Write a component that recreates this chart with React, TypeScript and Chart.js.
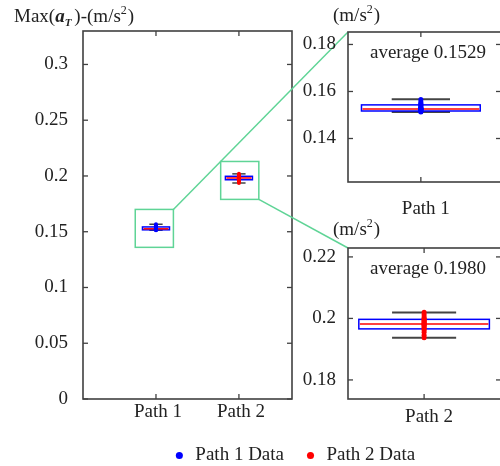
import React, { useEffect, useRef } from 'react';
import { Chart, registerables } from 'chart.js';

Chart.register(...registerables);

// ---------------- data ----------------
const categories = ['Path 1', 'Path 2'];
const categoryPositions = [1, 2];
const seriesNames = ['Path 1 Data', 'Path 2 Data'];
const seriesColors = ['#0000ff', '#ff0000'];

const path1Values = [
  0.1513, 0.1515, 0.1517, 0.1519, 0.1521, 0.1523, 0.1524, 0.1525, 0.1525, 0.1526,
  0.1527, 0.1529, 0.1531, 0.1534, 0.1538, 0.1542, 0.1545, 0.155, 0.1556, 0.1566,
];
const path2Values = [
  0.1937, 0.1945, 0.1955, 0.1962, 0.1966, 0.197, 0.1974, 0.1978, 0.198, 0.1982,
  0.1983, 0.1986, 0.1989, 0.1992, 0.1995, 0.1997, 0.2, 0.2005, 0.2012, 0.202,
];

const boxQ1 = [0.1517, 0.1966];
const boxMedian = [0.1526, 0.1982];
const boxQ3 = [0.1543, 0.1997];
const whiskerLow = [0.1513, 0.1937];
const whiskerHigh = [0.1567, 0.2019];
const averages = [0.1529, 0.198];

const mainYTicks = [0, 0.05, 0.1, 0.15, 0.2, 0.25, 0.3];
const mainYTickLabels = ['0', '0.05', '0.1', '0.15', '0.2', '0.25', '0.3'];
const inset1YTicks = [0.14, 0.16, 0.18];
const inset1YTickLabels = ['0.14', '0.16', '0.18'];
const inset2YTicks = [0.18, 0.2, 0.22];
const inset2YTickLabels = ['0.18', '0.2', '0.22'];

// zoom windows marked on the main panel
const zoomXRanges = [[0.75, 1.21], [1.78, 2.24]];
const zoomYRanges = [[0.136, 0.17], [0.179, 0.213]];

// axis ranges
const mainXRange = [0.12, 2.64];
const mainYRange = [0, 0.33];
const inset1XRange = [0.8, 1.22];
const inset1YRange = [0.1215, 0.1853];
const inset2XRange = [1.81, 2.192];
const inset2YRange = [0.1738, 0.2229];

// ---------------- styles ----------------
const FONT = '"Liberation Serif", "Times New Roman", serif';
const FS = 19;
const TEXT = '#222222';
const FRAME = '#404040';
const GREEN = 'rgb(95, 212, 150)';
const BOX_HALF = 0.163;
const CAP_HALF = 0.08;

const INSET_POS = [
  { left: 290, top: 0, width: 215, height: 230 },
  { left: 290, top: 200, width: 215, height: 240 },
];

type Run = { t: string; font: string; dy: number; dx?: number };

function drawRuns(ctx: CanvasRenderingContext2D, x: number, baseline: number, runs: Run[]) {
  ctx.save();
  ctx.textBaseline = 'alphabetic';
  ctx.textAlign = 'left';
  ctx.fillStyle = TEXT;
  let cx = x;
  runs.forEach((r) => {
    ctx.font = r.font;
    cx += r.dx || 0;
    ctx.fillText(r.t, cx, baseline + r.dy);
    cx += ctx.measureText(r.t).width;
  });
  ctx.restore();
}

const REG = `${FS}px ${FONT}`;
const SMALL = `12px ${FONT}`;
const BI = `bold italic ${FS}px ${FONT}`;
const BI_SMALL = `bold italic 11px ${FONT}`;

const unitRuns: Run[] = [
  { t: '(m/s', font: REG, dy: 0 },
  { t: '2', font: SMALL, dy: -8 },
  { t: ')', font: REG, dy: 0, dx: 1 },
];
const titleRuns: Run[] = [
  { t: 'Max(', font: REG, dy: 0 },
  { t: 'a', font: BI, dy: 0 },
  { t: 'T', font: BI_SMALL, dy: 4 },
  { t: ')-(m/s', font: REG, dy: 0, dx: 3 },
  { t: '2', font: SMALL, dy: -8 },
  { t: ')', font: REG, dy: 0, dx: 1 },
];

function line(ctx: CanvasRenderingContext2D, x0: number, y0: number, x1: number, y1: number) {
  ctx.beginPath();
  ctx.moveTo(x0, y0);
  ctx.lineTo(x1, y1);
  ctx.stroke();
}

function boxPlugin(indices: number[], capWidth: number) {
  return {
    id: 'boxes',
    beforeDatasetsDraw(chart: any) {
      const { ctx } = chart;
      const xs = chart.scales.x;
      const ys = chart.scales.y;
      ctx.save();
      indices.forEach((i) => {
        const c = categoryPositions[i];
        const xc = xs.getPixelForValue(c);
        const xl = xs.getPixelForValue(c - BOX_HALF);
        const xr = xs.getPixelForValue(c + BOX_HALF);
        const wl = xs.getPixelForValue(c - CAP_HALF);
        const wr = xs.getPixelForValue(c + CAP_HALF);
        const yq1 = ys.getPixelForValue(boxQ1[i]);
        const yq3 = ys.getPixelForValue(boxQ3[i]);
        const ymed = ys.getPixelForValue(boxMedian[i]);
        const ylo = ys.getPixelForValue(whiskerLow[i]);
        const yhi = ys.getPixelForValue(whiskerHigh[i]);
        ctx.strokeStyle = '#333333';
        ctx.lineWidth = 1;
        line(ctx, xc, ylo, xc, yq1);
        line(ctx, xc, yq3, xc, yhi);
        ctx.strokeStyle = '#444444';
        ctx.lineWidth = capWidth;
        line(ctx, wl, ylo, wr, ylo);
        line(ctx, wl, yhi, wr, yhi);
        ctx.strokeStyle = '#0000ff';
        ctx.lineWidth = 1.5;
        ctx.strokeRect(xl, yq3, xr - xl, yq1 - yq3);
        ctx.strokeStyle = '#ff0000';
        ctx.lineWidth = 1.5;
        line(ctx, xl + 1, ymed, xr - 1, ymed);
      });
      ctx.restore();
    },
  };
}

const framePlugin = {
  id: 'frame',
  afterDraw(chart: any) {
    const { ctx, chartArea: a } = chart;
    const xs = chart.scales.x;
    const ys = chart.scales.y;
    ctx.save();
    ctx.strokeStyle = FRAME;
    ctx.lineWidth = 1.3;
    ys.ticks.forEach((t: any) => {
      const py = ys.getPixelForValue(t.value);
      line(ctx, a.left, py, a.left + 5, py);
      line(ctx, a.right, py, a.right - 5, py);
    });
    xs.ticks.forEach((t: any) => {
      const px = xs.getPixelForValue(t.value);
      line(ctx, px, a.bottom, px, a.bottom - 5);
      line(ctx, px, a.top, px, a.top + 5);
    });
    ctx.lineWidth = 1.6;
    ctx.strokeRect(a.left, a.top, a.right - a.left, a.bottom - a.top);
    ctx.restore();
  },
};

function pointsFor(i: number) {
  const vals = i === 0 ? path1Values : path2Values;
  return vals.map((v) => ({ x: categoryPositions[i], y: v }));
}

function scatterDataset(i: number, radius: number) {
  return {
    type: 'scatter' as const,
    label: seriesNames[i],
    data: pointsFor(i),
    backgroundColor: seriesColors[i],
    borderColor: seriesColors[i],
    pointRadius: radius,
    pointBorderWidth: 0,
    pointStyle: 'circle',
    showLine: false,
  };
}

function xAxis(range: number[], ticksAt: number[], height: number, pad: number, labelOffset: number) {
  return {
    type: 'linear' as const,
    position: 'bottom' as const,
    min: range[0],
    max: range[1],
    grid: { display: false, drawTicks: false },
    border: { display: false },
    afterBuildTicks: (s: any) => {
      s.ticks = ticksAt.map((v) => ({ value: v }));
    },
    afterFit: (s: any) => {
      s.height = height;
    },
    ticks: {
      autoSkip: false,
      maxRotation: 0,
      padding: pad,
      labelOffset,
      color: TEXT,
      font: { family: FONT, size: FS },
      callback: (v: any) => categories[categoryPositions.indexOf(Number(v))],
    },
  };
}

function yAxis(range: number[], ticksAt: number[], labels: string[], width: number, pad: number) {
  return {
    type: 'linear' as const,
    position: 'left' as const,
    min: range[0],
    max: range[1],
    grid: { display: false, drawTicks: false },
    border: { display: false },
    afterBuildTicks: (s: any) => {
      s.ticks = ticksAt.map((v) => ({ value: v }));
    },
    afterFit: (s: any) => {
      s.width = width;
    },
    ticks: {
      autoSkip: false,
      padding: pad,
      color: TEXT,
      font: { family: FONT, size: FS },
      callback: (v: any) => labels[ticksAt.indexOf(Number(v))],
    },
  };
}

function insetConfig(
  i: number,
  xr: number[],
  yr: number[],
  yt: number[],
  yl: string[],
  padTop: number,
  xHeight: number,
  xPad: number,
  unitBaseline: number,
) {
  const labelPlugin = {
    id: 'insetText',
    afterDraw(chart: any) {
      const { ctx, chartArea: a } = chart;
      drawRuns(ctx, 43, unitBaseline, unitRuns);
      ctx.save();
      ctx.font = REG;
      ctx.fillStyle = TEXT;
      ctx.textAlign = 'center';
      ctx.textBaseline = 'middle';
      ctx.fillText(`average ${averages[i].toFixed(4)}`, a.left + 80, a.top + 21);
      ctx.restore();
    },
  };
  return {
    type: 'scatter' as const,
    data: { datasets: [scatterDataset(i, 2.5)] },
    options: {
      responsive: false,
      animation: false as const,
      events: [],
      layout: { padding: { top: padTop, left: 0, right: 0, bottom: 0 } },
      plugins: { legend: { display: false }, tooltip: { enabled: false }, title: { display: false } },
      scales: {
        x: xAxis(xr, [categoryPositions[i]], xHeight, xPad, 5),
        y: yAxis(yr, yt, yl, 58, 12),
      },
    },
    plugins: [boxPlugin([i], 2), framePlugin, labelPlugin],
  };
}

function mainConfig(getInsets: () => any[]) {
  const linkPlugin = {
    id: 'zoomLinks',
    afterDraw(chart: any) {
      const { ctx } = chart;
      const xs = chart.scales.x;
      const ys = chart.scales.y;
      const insets = getInsets();
      ctx.save();
      ctx.strokeStyle = GREEN;
      ctx.lineWidth = 1.5;
      zoomXRanges.forEach((zx, i) => {
        const x0 = xs.getPixelForValue(zx[0]);
        const x1 = xs.getPixelForValue(zx[1]);
        const yb = ys.getPixelForValue(zoomYRanges[i][0]);
        const yt = ys.getPixelForValue(zoomYRanges[i][1]);
        ctx.strokeRect(x0, yt, x1 - x0, yb - yt);
        const inset = insets[i];
        if (inset && inset.chartArea) {
          const tx = INSET_POS[i].left + inset.chartArea.left;
          const ty = INSET_POS[i].top + inset.chartArea.top;
          line(ctx, x1, i === 0 ? yt : yb, tx, ty);
        }
      });
      ctx.restore();
      drawRuns(ctx, 14, 22, titleRuns);
    },
  };
  return {
    type: 'scatter' as const,
    data: { datasets: [scatterDataset(0, 2), scatterDataset(1, 2)] },
    options: {
      responsive: false,
      animation: false as const,
      events: [],
      layout: { padding: { top: 31, left: 0, right: 0, bottom: 0 } },
      plugins: {
        tooltip: { enabled: false },
        title: { display: false },
        legend: {
          position: 'bottom' as const,
          labels: {
            usePointStyle: true,
            pointStyle: 'circle',
            boxWidth: 13,
            boxHeight: 5,
            padding: 20,
            color: TEXT,
            font: { family: FONT, size: FS },
          },
        },
      },
      scales: {
        x: xAxis(mainXRange, categoryPositions, 27, 2, 2),
        y: yAxis(mainYRange, mainYTicks, mainYTickLabels, 83, 15),
        y2: {
          type: 'linear' as const,
          position: 'right' as const,
          display: true,
          grid: { display: false, drawTicks: false },
          border: { display: false },
          ticks: { display: false },
          afterFit: (s: any) => {
            s.width = 296;
          },
        },
      },
    },
    plugins: [boxPlugin([0, 1], 1.5), framePlugin, linkPlugin],
  };
}

export default function App() {
  const mainRef = useRef<HTMLCanvasElement>(null);
  const in1Ref = useRef<HTMLCanvasElement>(null);
  const in2Ref = useRef<HTMLCanvasElement>(null);

  useEffect(() => {
    if (!mainRef.current || !in1Ref.current || !in2Ref.current) return;
    const inset1 = new Chart(
      in1Ref.current,
      insetConfig(0, inset1XRange, inset1YRange, inset1YTicks, inset1YTickLabels, 32, 48, 16, 21) as any,
    );
    const inset2 = new Chart(
      in2Ref.current,
      insetConfig(1, inset2XRange, inset2YRange, inset2YTicks, inset2YTickLabels, 48, 41, 7, 35) as any,
    );
    const main = new Chart(mainRef.current, mainConfig(() => [inset1, inset2]) as any);
    return () => {
      main.destroy();
      inset1.destroy();
      inset2.destroy();
    };
  }, []);

  return (
    <div
      style={{
        position: 'fixed',
        left: 0,
        top: 0,
        width: 500,
        height: 466,
        overflow: 'hidden',
        background: '#ffffff',
      }}
    >
      <canvas ref={mainRef} width={588} height={475} style={{ position: 'absolute', left: 0, top: 0 }} />
      <canvas
        ref={in1Ref}
        width={INSET_POS[0].width}
        height={INSET_POS[0].height}
        style={{ position: 'absolute', left: INSET_POS[0].left, top: INSET_POS[0].top }}
      />
      <canvas
        ref={in2Ref}
        width={INSET_POS[1].width}
        height={INSET_POS[1].height}
        style={{ position: 'absolute', left: INSET_POS[1].left, top: INSET_POS[1].top }}
      />
    </div>
  );
}
